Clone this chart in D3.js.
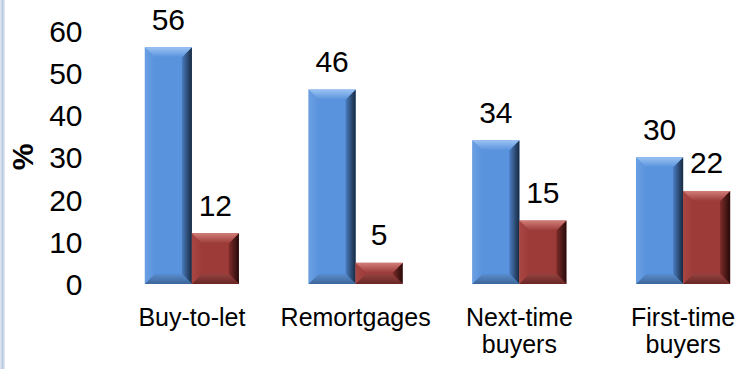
<!DOCTYPE html>
<html><head><meta charset="utf-8">
<script src="https://cdn.jsdelivr.net/npm/d3@7"></script>
<style>body{margin:0;background:#fff}svg{display:block}text{font-family:"Liberation Sans",Arial,sans-serif;fill:#000}</style>
</head><body>
<script>
const categories = [["Buy-to-let"],["Remortgages"],["Next-time","buyers"],["First-time","buyers"]];
const series1 = [56,46,34,30];
const series2 = [12,5,15,22];
const yTicks = [0,10,20,30,40,50,60];
const W=750,H=369;
const svg=d3.select("body").append("svg").attr("width",W).attr("height",H);
const defs=svg.append("defs");
const strip=defs.append("linearGradient").attr("id","strip");
strip.append("stop").attr("offset","0").attr("stop-color","#e6ecf5");
strip.append("stop").attr("offset","0.5").attr("stop-color","#b9c8de");
strip.append("stop").attr("offset","1").attr("stop-color","#e9eef6");
svg.append("rect").attr("x",0).attr("y",0).attr("width",5).attr("height",H).attr("fill","url(#strip)");

const x=d3.scaleBand().domain(d3.range(categories.length)).range([110,765]).paddingInner(0).paddingOuter(0);
const y=d3.scaleLinear().domain([0,60]).range([284,30.3]);
const bw=47;
const palettes=[
  {id:"b",base:"#5a93dd",top:["#9cc3f3","#5a93dd"],left:["#6a9fe2","#5a93dd"],right:["#4a7cc0","#17293f"],bottom:["#5a8ccd","#3c6699"]},
  {id:"r",base:"#9c3b38",top:["#d27d79","#9c3b38"],left:["#a84643","#9c3b38"],right:["#7e2c2a","#260b0a"],bottom:["#93423f","#6a2624"]}
];
function grad(id,x1,y1,x2,y2,c){
  const gr=defs.append("linearGradient").attr("id",id).attr("x1",x1).attr("y1",y1).attr("x2",x2).attr("y2",y2);
  gr.append("stop").attr("offset","0").attr("stop-color",c[0]);
  gr.append("stop").attr("offset","1").attr("stop-color",c[1]);
}
palettes.forEach(p=>{
  grad(p.id+"top",0,0,0,1,p.top);
  grad(p.id+"left",0,0,1,0,p.left);
  grad(p.id+"right",0,0,1,0,p.right);
  grad(p.id+"bottom",0,0,0,1,p.bottom);
});
function bevelBar(g,x0,y0,w,h,p){
  const b=Math.min(10,h/2);
  g.append("rect").attr("x",x0).attr("y",y0).attr("width",w).attr("height",h).attr("fill",p.base);
  g.append("polygon").attr("points",[[x0,y0],[x0+b,y0+b],[x0+b,y0+h-b],[x0,y0+h]].join(" ")).attr("fill",`url(#${p.id}left)`);
  g.append("polygon").attr("points",[[x0+w,y0],[x0+w,y0+h],[x0+w-b,y0+h-b],[x0+w-b,y0+b]].join(" ")).attr("fill",`url(#${p.id}right)`);
  g.append("polygon").attr("points",[[x0,y0+h],[x0+b,y0+h-b],[x0+w-b,y0+h-b],[x0+w,y0+h]].join(" ")).attr("fill",`url(#${p.id}bottom)`);
  g.append("polygon").attr("points",[[x0,y0],[x0+w,y0],[x0+w-b,y0+b],[x0+b,y0+b]].join(" ")).attr("fill",`url(#${p.id}top)`);
}
const g=svg.append("g");
[series1,series2].forEach((s,si)=>{
  s.forEach((v,i)=>{
    const cx=x(i)+x.bandwidth()/2;
    const x0=cx-bw+si*bw;
    bevelBar(g,x0,y(v),bw,y(0)-y(v),palettes[si]);
    svg.append("text").attr("x",x0+bw/2).attr("y",y(v)-17.5).attr("text-anchor","middle").attr("font-size",30).text(v);
  });
});
const ya=svg.append("g").attr("transform","translate(82.5,0)").call(d3.axisLeft(y).tickValues(yTicks).tickSize(0).tickPadding(0));
ya.select(".domain").remove();
ya.selectAll("text").attr("font-size",30).attr("font-family","Liberation Sans, Arial, sans-serif").attr("fill","#000").attr("dy","0.36em");
svg.append("text").attr("transform","translate(33,157) rotate(-90)").attr("text-anchor","middle").attr("font-size",30).attr("font-weight","bold").text("%");
categories.forEach((lines,i)=>{
  const cx=x(i)+x.bandwidth()/2;
  lines.forEach((l,j)=>{
    svg.append("text").attr("x",cx).attr("y",326+j*27).attr("text-anchor","middle").attr("font-size",25).text(l);
  });
});
</script>
</body></html>
